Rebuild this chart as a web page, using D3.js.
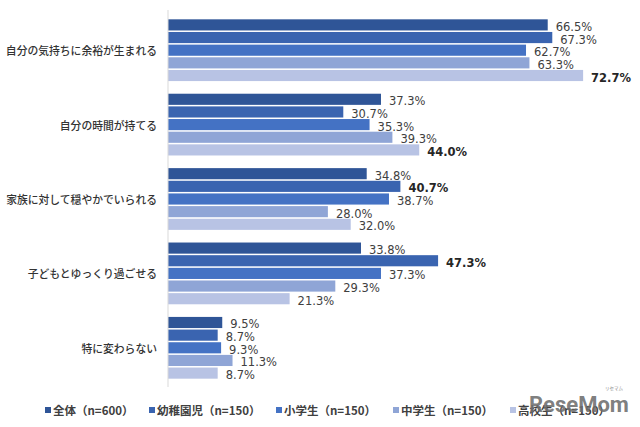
<!DOCTYPE html>
<html>
<head>
<meta charset="utf-8">
<script src="https://cdn.jsdelivr.net/npm/d3@7"></script>
<style>
  body { margin: 0; background: #fff; }
</style>
</head>
<body>
<div id="chart"></div>
<script>
// categories (top to bottom)
const categories = [
  '自分の気持ちに余裕が生まれる',
  '自分の時間が持てる',
  '家族に対して穏やかでいられる',
  '子どもとゆっくり過ごせる',
  '特に変わらない'
]

// series names, as shown in the legend
const seriesNames = ['全体（n=600）', '幼稚園児（n=150）', '小学生（n=150）', '中学生（n=150）', '高校生（n=150）']

// values per series, in category order (%)
const zentai   = [66.5, 37.3, 34.8, 33.8, 9.5]
const youchien = [67.3, 30.7, 40.7, 47.3, 8.7]
const shou     = [62.7, 35.3, 38.7, 37.3, 9.3]
const chuu     = [63.3, 39.3, 28.0, 29.3, 11.3]
const koukou   = [72.7, 44.0, 32.0, 21.3, 8.7]

// which series label is highlighted (bold) per category, -1 = none
const boldSeries = [4, 4, 1, 1, -1]

const colors = ['#2f5597', '#3a64b0', '#4472c4', '#8fa5d6', '#b8c3e4']

const allSeries = [zentai, youchien, shou, chuu, koukou]

let width = 640
let height = 427

let svg = d3.select('#chart')
  .append('svg')
    .attr('width', width)
    .attr('height', height)

// scales
let xScale = d3.scaleLinear()
  .domain([0, 100])
  .range([168, 739])

let yScale = d3.scaleBand()
  .domain(categories)
  .range([13, 385])
  .paddingInner(0.17)
  .paddingOuter(0.085)

let ySub = d3.scaleBand()
  .domain(d3.range(seriesNames.length))
  .range([0, yScale.bandwidth()])
  .paddingInner(0.12)

// flatten into rows for drawing
let rows = []
categories.forEach((c, ci) => {
  allSeries.forEach((s, si) => {
    rows.push({ cat: c, series: si, value: s[ci], bold: boldSeries[ci] === si })
  })
})

// bars
svg.selectAll('.bar')
    .data(rows)
  .enter().append('rect')
    .attr('class', 'bar')
    .attr('x', xScale(0))
    .attr('y', d => yScale(d.cat) + ySub(d.series))
    .attr('width', d => xScale(d.value) - xScale(0))
    .attr('height', ySub.bandwidth())
    .attr('fill', d => colors[d.series])

// value labels
svg.selectAll('.val')
    .data(rows)
  .enter().append('text')
    .attr('class', 'val')
    .attr('x', d => xScale(d.value) + 8)
    .attr('y', d => yScale(d.cat) + ySub(d.series) + ySub.bandwidth() / 2 + 2)
    .attr('dominant-baseline', 'central')
    .style('font-family', 'DejaVu Sans, Verdana, sans-serif')
    .style('font-size', '11.5px')
    .style('font-weight', d => d.bold ? 700 : 400)
    .style('fill', d => d.bold ? '#262626' : '#404040')
    .text(d => d.value.toFixed(1) + '%')

// y axis (left line + category labels)
svg.append('line')
  .attr('x1', xScale(0))
  .attr('x2', xScale(0))
  .attr('y1', 10)
  .attr('y2', 387)
  .attr('stroke', '#d9d9d9')
  .attr('stroke-width', 1)

svg.selectAll('.cat')
    .data(categories)
  .enter().append('text')
    .attr('class', 'cat')
    .attr('x', 157)
    .attr('y', d => yScale(d) + yScale.bandwidth() / 2)
    .attr('text-anchor', 'end')
    .attr('dominant-baseline', 'central')
    .style('font-family', '"Noto Sans CJK JP", sans-serif')
    .style('font-size', '10.8px')
    .style('font-weight', 500)
    .style('fill', '#333')
    .text(d => d)

// legend
const legendX = [45, 149, 276, 393, 510]
let legend = svg.selectAll('.leg')
    .data(seriesNames)
  .enter().append('g')
    .attr('class', 'leg')
    .attr('transform', (d, i) => 'translate(' + legendX[i] + ',410)')

legend.append('rect')
  .attr('x', 0)
  .attr('y', -3)
  .attr('width', 6)
  .attr('height', 6)
  .attr('fill', (d, i) => colors[i])

legend.append('text')
  .attr('x', 8)
  .attr('y', 0)
  .attr('dominant-baseline', 'central')
  .style('font-family', '"Noto Sans CJK JP", sans-serif')
  .style('font-size', '11.5px')
  .style('font-weight', 700)
  .style('fill', '#404040')
  .text(d => d)

// watermark
svg.append('text')
  .attr('x', 529)
  .attr('y', 412)
  .style('font-family', 'Roboto, sans-serif')
  .style('font-size', '22px')
  .style('font-weight', 700)
  .style('fill', '#6e6e6e')
  .style('fill-opacity', 0.9)
  .text('ReseMom')

svg.append('text')
  .attr('x', 614)
  .attr('y', 390)
  .attr('text-anchor', 'middle')
  .style('font-family', '"Noto Sans CJK JP", sans-serif')
  .style('font-size', '4.5px')
  .style('fill', '#8c8c8c')
  .text('リセマム')
</script>
</body>
</html>
